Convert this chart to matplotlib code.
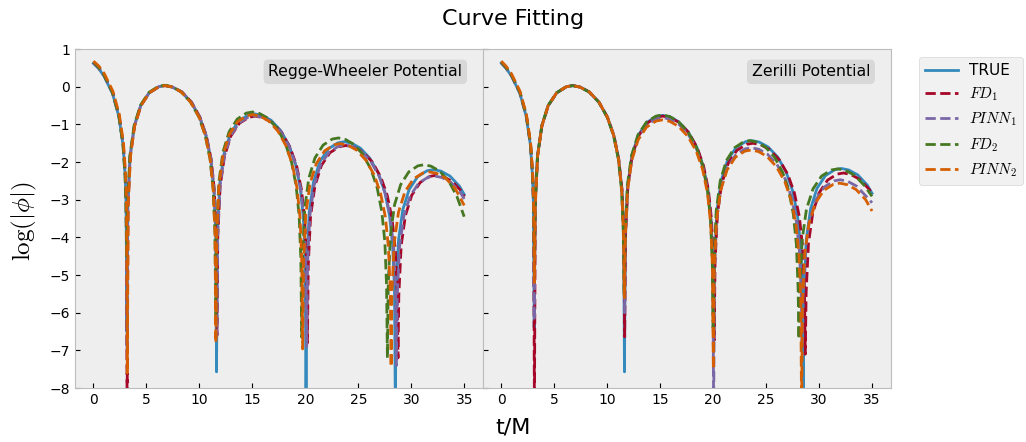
import matplotlib.pyplot as plt

plt.style.use('bmh')
plt.rcParams['axes.grid'] = False

# Regge-Wheeler potential: log|phi| against t/M
t_rw_true = [0, 0.5, 1.0, 1.8, 2.4, 2.8, 3.0, 3.08, 3.16, 3.24, 3.46, 3.86, 4.46, 5.26, 6.16, 6.76, 7.46, 8.32, 9.22, 10.02, 10.62, 11.07, 11.37, 11.54, 11.62, 11.70, 11.92, 12.32, 12.92, 13.72, 14.62, 15.22, 15.92, 16.77, 17.67, 18.47, 19.07, 19.52, 19.82, 19.99, 20.07, 20.15, 20.37, 20.77, 21.37, 22.17, 23.07, 23.67, 24.37, 25.2, 26.1, 26.9, 27.5, 27.95, 28.25, 28.42, 28.5, 28.58, 28.8, 29.2, 29.8, 30.6, 31.5, 32.1, 32.8, 33.65, 34.55, 35.0]
y_rw_true = [0.62, 0.48, 0.28, -0.18, -0.79, -1.56, -2.39, -3.09, -6.5, -3.15, -1.84, -1.04, -0.50, -0.16, 0.00, 0.03, -0.01, -0.14, -0.41, -0.81, -1.30, -1.92, -2.73, -3.88, -7.57, -3.90, -2.59, -1.79, -1.25, -0.91, -0.75, -0.72, -0.76, -0.89, -1.16, -1.56, -2.05, -2.67, -3.48, -4.63, -8.6, -4.64, -3.33, -2.53, -1.99, -1.65, -1.49, -1.46, -1.50, -1.63, -1.90, -2.30, -2.79, -3.41, -4.22, -5.37, -8.6, -5.38, -4.07, -3.27, -2.73, -2.39, -2.23, -2.20, -2.24, -2.37, -2.64, -2.86]

t_rw_fd1 = [0, 0.52, 1.02, 1.82, 2.42, 2.82, 3.02, 3.10, 3.18, 3.26, 3.48, 3.88, 4.48, 5.28, 6.18, 6.78, 7.48, 8.36, 9.26, 10.06, 10.66, 11.11, 11.41, 11.58, 11.66, 11.74, 11.96, 12.37, 12.97, 13.78, 14.69, 15.30, 16.0, 16.87, 17.78, 18.58, 19.19, 19.64, 19.95, 20.12, 20.2, 20.28, 20.5, 20.91, 21.52, 22.33, 23.24, 23.84, 24.55, 25.42, 26.33, 27.13, 27.74, 28.19, 28.5, 28.67, 28.75, 28.83, 29.05, 29.45, 30.05, 30.85, 31.75, 32.35, 33.05, 33.9, 34.8, 35.0]
y_rw_fd1 = [0.64, 0.50, 0.30, -0.16, -0.77, -1.54, -2.37, -3.07, -8.6, -3.15, -1.84, -1.04, -0.50, -0.16, 0.00, 0.03, -0.01, -0.14, -0.41, -0.81, -1.30, -1.92, -2.73, -3.88, -6.6, -3.96, -2.65, -1.85, -1.31, -0.97, -0.81, -0.78, -0.82, -0.95, -1.22, -1.62, -2.11, -2.73, -3.54, -4.69, -6.8, -4.74, -3.43, -2.63, -2.09, -1.75, -1.59, -1.56, -1.60, -1.73, -2.00, -2.40, -2.89, -3.51, -4.32, -5.47, -7.2, -5.53, -4.22, -3.42, -2.88, -2.54, -2.38, -2.35, -2.39, -2.52, -2.79, -2.92]

t_rw_pinn1 = [0, 0.51, 1.01, 1.81, 2.41, 2.81, 3.01, 3.09, 3.17, 3.25, 3.47, 3.87, 4.47, 5.27, 6.17, 6.77, 7.47, 8.35, 9.25, 10.05, 10.65, 11.10, 11.40, 11.57, 11.65, 11.73, 11.95, 12.35, 12.95, 13.75, 14.65, 15.25, 15.95, 16.83, 17.73, 18.53, 19.13, 19.58, 19.88, 20.05, 20.13, 20.21, 20.43, 20.83, 21.43, 22.23, 23.13, 23.73, 24.43, 25.3, 26.2, 27.0, 27.6, 28.05, 28.35, 28.52, 28.6, 28.68, 28.9, 29.3, 29.9, 30.7, 31.6, 32.2, 32.9, 33.75, 34.65, 35.0]
y_rw_pinn1 = [0.63, 0.49, 0.29, -0.17, -0.78, -1.55, -2.38, -3.08, -7.0, -3.15, -1.84, -1.04, -0.50, -0.16, 0.00, 0.03, -0.01, -0.14, -0.41, -0.81, -1.30, -1.92, -2.73, -3.88, -6.6, -3.95, -2.64, -1.84, -1.30, -0.96, -0.80, -0.77, -0.81, -0.94, -1.21, -1.61, -2.10, -2.72, -3.53, -4.68, -6.9, -4.73, -3.42, -2.62, -2.08, -1.74, -1.58, -1.55, -1.59, -1.72, -1.99, -2.39, -2.88, -3.50, -4.31, -5.46, -7.4, -5.55, -4.24, -3.44, -2.90, -2.56, -2.40, -2.37, -2.41, -2.54, -2.81, -2.98]

t_rw_fd2 = [0, 0.48, 0.98, 1.78, 2.38, 2.78, 2.98, 3.06, 3.14, 3.22, 3.44, 3.84, 4.44, 5.24, 6.14, 6.74, 7.44, 8.25, 9.15, 9.95, 10.55, 11.0, 11.3, 11.47, 11.55, 11.63, 11.84, 12.22, 12.80, 13.57, 14.43, 15.01, 15.68, 16.49, 17.36, 18.12, 18.70, 19.13, 19.42, 19.58, 19.66, 19.74, 19.95, 20.33, 20.91, 21.68, 22.54, 23.12, 23.79, 24.58, 25.45, 26.21, 26.79, 27.22, 27.51, 27.67, 27.75, 27.83, 28.04, 28.42, 29.0, 29.77, 30.63, 31.21, 31.88, 32.68, 33.55, 34.31, 35.0]
y_rw_fd2 = [0.66, 0.52, 0.32, -0.14, -0.75, -1.52, -2.35, -3.05, -4.5, -3.14, -1.83, -1.03, -0.49, -0.15, 0.01, 0.04, 0.00, -0.13, -0.40, -0.80, -1.29, -1.91, -2.72, -3.87, -6.2, -3.85, -2.54, -1.74, -1.20, -0.86, -0.70, -0.67, -0.71, -0.84, -1.11, -1.51, -2.00, -2.62, -3.43, -4.58, -6.65, -4.54, -3.23, -2.43, -1.89, -1.55, -1.39, -1.36, -1.40, -1.53, -1.80, -2.20, -2.69, -3.31, -4.12, -5.27, -7.2, -5.25, -3.94, -3.14, -2.60, -2.26, -2.10, -2.07, -2.11, -2.24, -2.51, -2.91, -3.45]

t_rw_pinn2 = [0, 0.54, 1.04, 1.84, 2.44, 2.84, 3.04, 3.12, 3.2, 3.28, 3.5, 3.89, 4.49, 5.28, 6.17, 6.76, 7.46, 8.29, 9.18, 9.98, 10.57, 11.02, 11.31, 11.48, 11.56, 11.64, 11.85, 12.24, 12.82, 13.60, 14.47, 15.05, 15.73, 16.55, 17.42, 18.20, 18.78, 19.22, 19.51, 19.67, 19.75, 19.83, 20.05, 20.44, 21.04, 21.83, 22.72, 23.31, 24.01, 24.83, 25.72, 26.52, 27.11, 27.56, 27.85, 28.02, 28.1, 28.18, 28.4, 28.8, 29.4, 30.2, 31.1, 31.7, 32.4, 33.25, 34.15, 35.0]
y_rw_pinn2 = [0.68, 0.54, 0.34, -0.12, -0.73, -1.50, -2.33, -3.03, -7.6, -3.15, -1.84, -1.04, -0.50, -0.16, 0.00, 0.03, -0.01, -0.14, -0.41, -0.81, -1.30, -1.92, -2.73, -3.88, -6.8, -3.92, -2.61, -1.81, -1.27, -0.93, -0.77, -0.74, -0.78, -0.91, -1.18, -1.58, -2.07, -2.69, -3.50, -4.65, -6.96, -4.69, -3.38, -2.58, -2.04, -1.70, -1.54, -1.51, -1.55, -1.68, -1.95, -2.35, -2.84, -3.46, -4.27, -5.42, -7.43, -5.44, -4.13, -3.33, -2.79, -2.45, -2.29, -2.26, -2.30, -2.43, -2.70, -3.15]

# Zerilli potential
t_z_true = [0, 0.45, 0.95, 1.75, 2.35, 2.75, 2.95, 3.03, 3.11, 3.19, 3.41, 3.82, 4.42, 5.23, 6.14, 6.75, 7.45, 8.30, 9.21, 10.01, 10.62, 11.07, 11.38, 11.55, 11.63, 11.71, 11.93, 12.33, 12.93, 13.73, 14.63, 15.23, 15.93, 16.75, 17.65, 18.45, 19.05, 19.5, 19.8, 19.97, 20.05, 20.13, 20.35, 20.75, 21.35, 22.15, 23.05, 23.65, 24.35, 25.2, 26.1, 26.9, 27.5, 27.95, 28.25, 28.42, 28.5, 28.58, 28.8, 29.2, 29.8, 30.6, 31.5, 32.1, 32.8, 33.65, 34.55, 35.0]
y_z_true = [0.63, 0.49, 0.29, -0.17, -0.78, -1.55, -2.38, -3.08, -6.4, -3.15, -1.84, -1.04, -0.50, -0.16, 0.00, 0.03, -0.01, -0.14, -0.41, -0.81, -1.30, -1.92, -2.73, -3.88, -7.57, -3.94, -2.63, -1.83, -1.29, -0.95, -0.79, -0.76, -0.80, -0.93, -1.20, -1.60, -2.09, -2.71, -3.52, -4.67, -7.0, -4.61, -3.30, -2.50, -1.96, -1.62, -1.46, -1.43, -1.47, -1.60, -1.87, -2.27, -2.76, -3.38, -4.19, -5.34, -8.6, -5.35, -4.04, -3.24, -2.70, -2.36, -2.20, -2.17, -2.21, -2.34, -2.61, -2.83]

t_z_fd1 = [0, 0.47, 0.97, 1.77, 2.37, 2.77, 2.97, 3.05, 3.13, 3.21, 3.43, 3.84, 4.44, 5.25, 6.16, 6.77, 7.47, 8.32, 9.23, 10.03, 10.64, 11.09, 11.40, 11.57, 11.65, 11.73, 11.95, 12.35, 12.95, 13.75, 14.65, 15.25, 15.95, 16.8, 17.7, 18.5, 19.1, 19.55, 19.85, 20.02, 20.1, 20.18, 20.41, 20.81, 21.43, 22.24, 23.16, 23.77, 24.49, 25.33, 26.25, 27.07, 27.68, 28.14, 28.45, 28.62, 28.7, 28.78, 29.0, 29.4, 30.0, 30.8, 31.7, 32.3, 33.0, 33.85, 34.75, 35.0]
y_z_fd1 = [0.64, 0.50, 0.30, -0.16, -0.77, -1.54, -2.37, -3.07, -8.6, -3.15, -1.84, -1.04, -0.50, -0.16, 0.00, 0.03, -0.01, -0.14, -0.41, -0.81, -1.30, -1.92, -2.73, -3.88, -6.64, -3.96, -2.65, -1.85, -1.31, -0.97, -0.81, -0.78, -0.82, -0.95, -1.22, -1.62, -2.11, -2.73, -3.54, -4.69, -6.73, -4.68, -3.37, -2.57, -2.03, -1.69, -1.53, -1.50, -1.54, -1.67, -1.94, -2.34, -2.83, -3.45, -4.26, -5.41, -7.1, -5.47, -4.16, -3.36, -2.82, -2.48, -2.32, -2.29, -2.33, -2.46, -2.73, -2.83]

t_z_pinn1 = [0, 0.46, 0.96, 1.76, 2.36, 2.76, 2.96, 3.04, 3.12, 3.2, 3.42, 3.83, 4.43, 5.24, 6.15, 6.76, 7.46, 8.31, 9.22, 10.02, 10.63, 11.08, 11.39, 11.56, 11.64, 11.72, 11.94, 12.34, 12.94, 13.74, 14.64, 15.24, 15.94, 16.75, 17.65, 18.45, 19.05, 19.5, 19.8, 19.97, 20.05, 20.13, 20.35, 20.74, 21.34, 22.13, 23.02, 23.61, 24.31, 25.13, 26.02, 26.82, 27.41, 27.86, 28.15, 28.32, 28.4, 28.48, 28.7, 29.1, 29.7, 30.5, 31.4, 32.0, 32.7, 33.55, 34.45, 35.0]
y_z_pinn1 = [0.63, 0.49, 0.29, -0.17, -0.78, -1.55, -2.38, -3.08, -6.2, -3.15, -1.84, -1.04, -0.50, -0.16, 0.00, 0.03, -0.01, -0.14, -0.41, -0.81, -1.30, -1.92, -2.73, -3.88, -6.0, -4.00, -2.69, -1.89, -1.35, -1.01, -0.85, -0.82, -0.86, -0.99, -1.26, -1.66, -2.15, -2.77, -3.58, -4.73, -8.6, -4.80, -3.49, -2.69, -2.15, -1.81, -1.65, -1.62, -1.66, -1.79, -2.06, -2.46, -2.95, -3.57, -4.38, -5.53, -6.8, -5.65, -4.34, -3.54, -3.00, -2.66, -2.50, -2.47, -2.51, -2.64, -2.91, -3.08]

t_z_fd2 = [0, 0.46, 0.96, 1.76, 2.36, 2.76, 2.96, 3.04, 3.12, 3.2, 3.42, 3.82, 4.42, 5.22, 6.12, 6.72, 7.42, 8.3, 9.2, 10.0, 10.6, 11.05, 11.35, 11.52, 11.6, 11.68, 11.9, 12.3, 12.9, 13.7, 14.6, 15.2, 15.9, 16.7, 17.6, 18.4, 19.0, 19.45, 19.75, 19.92, 20.0, 20.08, 20.29, 20.67, 21.25, 22.02, 22.88, 23.46, 24.13, 24.93, 25.8, 26.56, 27.14, 27.57, 27.86, 28.02, 28.1, 28.18, 28.41, 28.81, 29.43, 30.24, 31.16, 31.77, 32.49, 33.35, 34.27, 35.0]
y_z_fd2 = [0.65, 0.51, 0.31, -0.15, -0.76, -1.53, -2.36, -3.06, -4.5, -3.15, -1.84, -1.04, -0.50, -0.16, 0.00, 0.03, -0.01, -0.14, -0.41, -0.81, -1.30, -1.92, -2.73, -3.88, -5.5, -3.93, -2.62, -1.82, -1.28, -0.94, -0.78, -0.75, -0.79, -0.92, -1.19, -1.59, -2.08, -2.70, -3.51, -4.66, -6.4, -4.61, -3.30, -2.50, -1.96, -1.62, -1.46, -1.43, -1.47, -1.60, -1.87, -2.27, -2.76, -3.38, -4.19, -5.34, -6.7, -5.36, -4.05, -3.25, -2.71, -2.37, -2.21, -2.18, -2.22, -2.35, -2.62, -2.91]

t_z_pinn2 = [0, 0.47, 0.97, 1.77, 2.37, 2.77, 2.97, 3.05, 3.13, 3.21, 3.43, 3.83, 4.43, 5.23, 6.13, 6.73, 7.43, 8.32, 9.22, 10.02, 10.62, 11.07, 11.37, 11.54, 11.62, 11.7, 11.92, 12.32, 12.92, 13.72, 14.62, 15.22, 15.92, 16.72, 17.62, 18.42, 19.02, 19.47, 19.77, 19.94, 20.02, 20.1, 20.32, 20.71, 21.31, 22.1, 22.99, 23.58, 24.28, 25.08, 25.97, 26.77, 27.36, 27.81, 28.1, 28.27, 28.35, 28.43, 28.65, 29.05, 29.65, 30.45, 31.35, 31.95, 32.65, 33.5, 34.4, 35.0]
y_z_pinn2 = [0.68, 0.54, 0.34, -0.12, -0.73, -1.50, -2.33, -3.03, -5.2, -3.15, -1.84, -1.04, -0.50, -0.16, 0.00, 0.03, -0.01, -0.14, -0.41, -0.81, -1.30, -1.92, -2.73, -3.88, -5.6, -4.06, -2.75, -1.95, -1.41, -1.07, -0.91, -0.88, -0.92, -1.05, -1.32, -1.72, -2.21, -2.83, -3.64, -4.79, -7.5, -4.86, -3.55, -2.75, -2.21, -1.87, -1.71, -1.68, -1.72, -1.85, -2.12, -2.52, -3.01, -3.63, -4.44, -5.59, -8.6, -5.74, -4.43, -3.63, -3.09, -2.75, -2.59, -2.56, -2.60, -2.73, -3.00, -3.30]

labels = ['TRUE', r'$FD_1$', r'$PINN_1$', r'$FD_2$', r'$PINN_2$']
colors = ['#348ABD', '#A60628', '#7A68A6', '#467821', '#D55E00']
styles = ['-', '--', '--', '--', '--']

panels = [
    ('Regge-Wheeler Potential',
     [(t_rw_true, y_rw_true), (t_rw_fd1, y_rw_fd1), (t_rw_pinn1, y_rw_pinn1),
      (t_rw_fd2, y_rw_fd2), (t_rw_pinn2, y_rw_pinn2)]),
    ('Zerilli Potential',
     [(t_z_true, y_z_true), (t_z_fd1, y_z_fd1), (t_z_pinn1, y_z_pinn1),
      (t_z_fd2, y_z_fd2), (t_z_pinn2, y_z_pinn2)]),
]

fig, axes = plt.subplots(1, 2, sharey=True, figsize=(10.26, 4.42), dpi=100)
fig.subplots_adjust(left=0.073, right=0.868, top=0.889, bottom=0.122, wspace=0)

for ax, (name, series) in zip(axes, panels):
    for (t, y), lab, c, ls in zip(series, labels, colors, styles):
        ax.plot(t, y, ls, color=c, lw=2, label=lab)
    ax.set_xlim(-1.75, 36.75)
    ax.set_ylim(-8, 1)
    ax.set_xticks(range(0, 36, 5))
    ax.set_yticks(range(-8, 2))
    ax.text(0.95, 0.955, name, transform=ax.transAxes, ha='right', va='top',
            fontsize=11.3,
            bbox=dict(boxstyle='round,pad=0.3', facecolor='#d8d8d8', edgecolor='none'))

axes[1].legend(loc='upper left', bbox_to_anchor=(1.069, 0.977), borderaxespad=0,
               fontsize=11, handlelength=2.2, handletextpad=0.7)

fig.suptitle('Curve Fitting', fontsize=16, y=0.98, va='top')
fig.supxlabel('t/M', fontsize=16, y=0.01)
fig.supylabel(r'$\log(|\phi|)$', fontsize=18, x=0.01)

fig.savefig('out.png', dpi=100)
